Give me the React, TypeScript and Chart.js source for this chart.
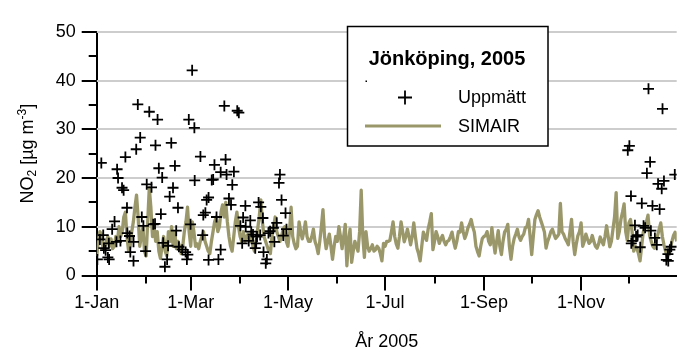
import React, { useEffect, useRef } from "react";
import { Chart, registerables } from "chart.js";

Chart.register(...registerables);

// ---------- data ----------
// Modelled daily NO2 (SIMAIR), day index 0 = 1 Jan 2005
const simair: number[] = [
  4, 7, 9, 8.5, 5.5, 6, 7, 8, 6, 7.5, 5.5, 6, 8, 7, 10, 8, 9, 12, 13, 8, 5, 6, 9, 11, 14, 16.5, 12, 6, 8, 10, 5,
  4, 11, 18, 14, 8, 10, 7, 9, 5, 3.5, 6, 8, 5, 4, 9, 7, 10, 6, 9, 5.5, 7, 6, 4.5, 6, 9, 11, 14, 9,
  6, 11, 9, 6, 6.5,
  5.5, 7, 8, 9, 7, 6, 5, 4.5, 7, 9, 11, 12, 9, 10, 13, 14.5, 12, 15, 11, 8, 6, 5, 8, 11, 13, 10, 8, 7, 9, 7,
  8, 8.5, 7, 9, 6, 5, 7, 9.5, 12, 15.5, 11, 8, 7, 6, 5, 4.5, 8, 10, 12, 9, 8, 7, 8, 9.5, 10, 7, 6, 9,
  14, 8, 6.5, 5.5, 6, 11, 9, 7.5, 9, 11, 8, 7, 7, 8, 9.5, 7, 6, 4.5, 7, 10, 13.5, 8, 5.5, 7, 8.5, 6, 3.3, 6, 8, 7,
  10, 8, 5.5, 8, 10.5, 2, 7, 9.5, 2.7, 5, 7, 6, 5, 9, 17.5, 8, 3.7, 9, 6, 5, 5.5, 6.3, 5, 5.3, 6, 5.6, 4.5, 3, 6.6, 6,
  7, 7, 7.2, 9, 11, 8, 6.5,
  5.6, 8, 11, 9, 6.9, 8, 9.5, 8, 6.3, 8, 10.8, 8, 5.6, 4.5, 3, 6, 8.9, 8, 7.2, 9.5, 11, 12.7, 5.3, 7, 9, 8, 6.6, 7.5, 8.2, 7,
  6.3, 7, 7.2, 8, 8.9, 7, 5.6, 7, 9, 8.9, 10.8, 9, 7.6, 8.5, 9.8, 10.5, 11.5, 10, 8.9, 6, 4.9, 4, 6, 7.6, 8, 8.2, 9, 7,
  6.3, 9.8, 7, 4.6, 7, 9.2, 6, 4.3, 7, 8.9, 9.5, 10.5, 6, 3.3, 6, 7.6, 8.5, 9.5, 8, 7.2, 8, 8.5, 9.8, 10, 11.5, 8, 4.3, 8, 11.5, 12.5,
  13.3, 12, 11, 10, 8.9, 5.6, 7, 7.9, 9, 9.5, 8.5, 7.6, 8, 8.5, 14.8, 9, 8.5, 7.6, 7, 6.3, 9, 11.5, 7, 4.3, 6.5, 8.2, 9,
  10.8, 6, 7, 8.5, 7.5, 6.6, 7, 8.2, 7, 6,
  5.6, 6.5, 7.9, 7, 6.3, 8, 10.2, 8, 5.9, 7, 9.5, 12, 17, 7.6, 9, 11.5, 13, 14.7, 9, 7.2, 10.8, 11.5, 9, 5, 6,
  5.6, 4.5, 3, 6, 8.9, 10, 11, 12.4, 8.2, 7, 6, 5.6, 7, 8.2, 9.5, 10.8, 8, 6.3, 5, 3.7, 4.5, 5.6, 7, 8.2, 8.9, 7,
];

// Measured values (Uppmätt): day of year and NO2
const obsDay: number[] = [
  59.9, 25.8, 33.0, 38.2, 57.8, 61.3, 27.3, 24.8, 36.9, 46.8,
  2.9, 18.0, 12.8, 13.4, 39.0, 49.1, 41.1, 61.5, 15.9, 16.9,
  31.4, 34.4, 47.9, 45.8, 19.0, 51.0, 40.3, 28.3, 11.2, 29.3,
  35.5, 36.6, 58.9, 9.7, 49.9, 4.1, 2.0, 19.2, 20.6, 14.9,
  12.4, 7.6, 23.1, 41.7, 44.8, 51.6, 53.7, 4.5, 5.6, 21.1,
  30.7, 55.8, 57.2, 7.0, 7.8, 0.4, 23.1, 44.2, 42.8, 56.6,
  80.1, 88.2, 89.2, 65.1, 80.9, 73.9, 86.1, 77.8, 81.5, 115.0,
  114.4, 72.2, 73.1, 85.1, 70.2, 69.0, 83.0, 84.3, 116.0, 101.6,
  103.0, 93.3, 118.5, 68.2, 66.9, 75.2, 91.9, 96.4, 104.3, 113.0,
  110.9, 90.2, 93.5, 119.1, 108.8, 107.8, 97.0, 98.1, 102.6, 100.6,
  66.5, 117.1, 111.5, 91.3, 95.4, 100.1, 99.5, 77.8, 104.7, 70.2,
  76.4, 106.8, 106.1,
  346.3, 355.1, 334.3, 333.3, 347.3, 345.3, 362.8, 356.0, 352.3, 354.6,
  335.3, 342.1, 348.8, 353.3, 337.8, 343.2, 344.2, 347.8, 339.5, 338.5,
  350.3, 336.4, 335.5, 351.5, 341.1, 360.6, 359.7, 358.5, 357.5, 358.7,
];
const obsValue: number[] = [
  42.1, 35.1, 33.6, 32.0, 32.0, 30.3, 28.3, 25.9, 26.7, 27.2,
  23.1, 24.3, 21.8, 20.0, 22.0, 22.5, 20.1, 19.5, 18.0, 17.5,
  18.7, 18.1, 18.0, 16.2, 13.9, 13.9, 12.6, 12.0, 11.1, 10.2,
  10.5, 10.6, 10.5, 9.5, 9.2, 8.3, 7.4, 8.7, 8.1, 7.1,
  6.9, 6.6, 6.9, 6.7, 6.1, 5.9, 5.3, 5.6, 5.2, 4.8,
  5.0, 4.8, 4.3, 3.7, 3.3, 3.3, 3.0, 3.3, 1.8, 3.3,
  34.8, 33.8, 33.4, 24.4, 23.8, 22.7, 21.3, 21.2, 20.7, 20.7,
  19.0, 19.6, 19.7, 18.6, 16.0, 15.5, 15.8, 14.5, 15.5, 15.0,
  14.1, 14.3, 12.8, 12.9, 12.4, 12.0, 11.9, 11.3, 11.8, 10.8,
  9.8, 10.2, 10.0, 9.5, 9.1, 8.7, 9.0, 8.4, 8.3, 8.0,
  8.3, 8.2, 6.9, 6.6, 7.1, 6.6, 5.6, 5.3, 4.8, 3.2,
  3.3, 3.3, 2.5,
  38.3, 34.2, 26.6, 25.7, 23.3, 21.0, 20.7, 19.4, 18.8, 17.8,
  16.3, 14.8, 14.3, 13.6, 10.3, 10.2, 9.8, 9.2, 8.3, 8.0,
  7.7, 7.1, 6.6, 6.3, 5.8, 5.9, 5.3, 4.4, 3.2, 3.0,
];

const monthStartDays: number[] = [0, 31, 59, 90, 120, 151, 181, 212, 243, 273, 304, 334];
const monthTickLabels: string[] = ["1-Jan", "", "1-Mar", "", "1-May", "", "1-Jul", "", "1-Sep", "", "1-Nov", ""];
const yMajorTicks: number[] = [0, 10, 20, 30, 40, 50];
const yMinorTicks: number[] = [5, 15, 25, 35, 45];
const legendTitle = "Jönköping, 2005";
const seriesNames: string[] = ["Uppmätt", "SIMAIR"];
const xTitle = "År 2005";

// ---------- styles ----------
const FONT = "'Liberation Sans', Arial, Helvetica, sans-serif";
const OLIVE = "#9a986a";

const gridPlugin = {
  id: "hgrid",
  beforeDatasetsDraw(chart: any) {
    const { ctx, chartArea, scales } = chart;
    ctx.save();
    ctx.strokeStyle = "#cdcdcd";
    ctx.lineWidth = 2;
    yMajorTicks.forEach((v) => {
      if (v === 0) return;
      const py = Math.round(scales.y.getPixelForValue(v));
      ctx.beginPath();
      ctx.moveTo(chartArea.left, py);
      ctx.lineTo(chartArea.right, py);
      ctx.stroke();
    });
    ctx.restore();
  },
};

const decorPlugin = {
  id: "decor",
  afterDraw(chart: any) {
    const { ctx, chartArea, scales } = chart;
    const xs = scales.x;
    const ys = scales.y;
    ctx.save();
    ctx.strokeStyle = "#000";
    ctx.lineWidth = 2;
    ctx.lineCap = "butt";
    // y ticks
    const drawY = (v: number, len: number) => {
      const py = Math.round(ys.getPixelForValue(v));
      ctx.beginPath();
      ctx.moveTo(chartArea.left - len, py);
      ctx.lineTo(chartArea.left, py);
      ctx.stroke();
    };
    yMajorTicks.forEach((v) => drawY(v, 15));
    yMinorTicks.forEach((v) => drawY(v, 8));
    // x ticks
    monthStartDays.forEach((d, i) => {
      const px = Math.round(xs.getPixelForValue(d));
      const len = i % 2 === 0 ? 15 : 8;
      ctx.beginPath();
      ctx.moveTo(px, chartArea.bottom);
      ctx.lineTo(px, chartArea.bottom + len);
      ctx.stroke();
    });

    // y-axis title with sub/superscript
    const cy = (chartArea.top + chartArea.bottom) / 2;
    ctx.translate(28, cy);
    ctx.rotate(-Math.PI / 2);
    ctx.fillStyle = "#000";
    ctx.textBaseline = "middle";
    ctx.textAlign = "left";
    const parts: [string, number, number][] = [
      ["NO", 18, 0],
      ["2", 12, 5],
      [" [µg m", 18, 0],
      ["-3", 12, -5],
      ["]", 18, 0],
    ];
    let total = 0;
    parts.forEach(([t, s]) => {
      ctx.font = `${s}px ${FONT}`;
      total += ctx.measureText(t).width;
    });
    let cx = -total / 2;
    parts.forEach(([t, s, dy]) => {
      ctx.font = `${s}px ${FONT}`;
      ctx.fillText(t, cx, dy);
      cx += ctx.measureText(t).width;
    });
    ctx.setTransform(1, 0, 0, 1, 0, 0);

    // legend box
    const bx = 347.5, by = 26.5, bw = 200.5, bh = 119.5;
    ctx.fillStyle = "#fff";
    ctx.fillRect(bx, by, bw, bh);
    ctx.strokeStyle = "#000";
    ctx.lineWidth = 1.5;
    ctx.strokeRect(bx, by, bw, bh);
    ctx.fillStyle = "#000";
    ctx.font = `bold 20px ${FONT}`;
    ctx.textAlign = "center";
    ctx.textBaseline = "middle";
    ctx.fillText(legendTitle, 447, 59);
    ctx.fillRect(365.5, 80.5, 1.5, 1.5);
    // cross marker
    ctx.lineWidth = 1.8;
    ctx.beginPath();
    ctx.moveTo(398, 97.5);
    ctx.lineTo(412, 97.5);
    ctx.moveTo(405, 90.5);
    ctx.lineTo(405, 104.5);
    ctx.stroke();
    // line sample
    ctx.strokeStyle = OLIVE;
    ctx.lineWidth = 3;
    ctx.beginPath();
    ctx.moveTo(365, 126);
    ctx.lineTo(441, 126);
    ctx.stroke();
    ctx.font = `18px ${FONT}`;
    ctx.textAlign = "left";
    ctx.fillText(seriesNames[0], 458, 98);
    ctx.fillText(seriesNames[1], 458, 127);
    ctx.restore();
  },
};

export default function App() {
  const ref = useRef<HTMLCanvasElement | null>(null);
  useEffect(() => {
    if (!ref.current) return;
    const chart = new Chart(ref.current, {
      type: "line",
      data: {
        datasets: [
          {
            label: seriesNames[0],
            data: obsDay.map((d, i) => ({ x: d, y: obsValue[i] })),
            showLine: false,
            pointStyle: "cross",
            pointRadius: 5.5,
            pointBorderWidth: 1.8,
            pointBorderColor: "#000",
            borderColor: "#000",
            backgroundColor: "#000",
            order: 0,
          },
          {
            label: seriesNames[1],
            data: simair.map((v, i) => ({ x: i, y: v })),
            borderColor: OLIVE,
            borderWidth: 3.3,
            pointRadius: 0,
            tension: 0,
            borderJoinStyle: "round",
            order: 1,
          },
        ],
      } as any,
      options: {
        responsive: false,
        animation: false,
        devicePixelRatio: 1,
        layout: { padding: { top: 18.7, right: 0, left: 0, bottom: 0 } },
        plugins: { legend: { display: false }, tooltip: { enabled: false } },
        scales: {
          x: {
            type: "linear",
            min: 0,
            max: 364,
            grid: { display: false, drawTicks: false },
            border: { display: true, color: "#000", width: 2 },
            afterBuildTicks: (s: any) => {
              s.ticks = monthStartDays.map((v) => ({ value: v }));
            },
            ticks: {
              autoSkip: false,
              maxRotation: 0,
              callback: (_v: any, i: number) => monthTickLabels[i],
              font: { family: FONT, size: 18 },
              color: "#000",
              padding: 17,
            },
            title: {
              display: true,
              text: xTitle,
              font: { family: FONT, size: 18 },
              color: "#000",
              padding: { top: 0, bottom: 1 },
            },
            afterFit: (s: any) => {
              s.height = 78.5;
            },
          },
          y: {
            min: 0,
            max: 50,
            ticks: {
              stepSize: 10,
              font: { family: FONT, size: 18 },
              color: "#000",
              padding: 21,
            },
            grid: { display: false, drawTicks: false },
            border: { display: true, color: "#000", width: 2 },
            afterFit: (s: any) => {
              s.width = 96.7;
            },
          },
        },
      } as any,
      plugins: [gridPlugin, decorPlugin],
    });
    return () => chart.destroy();
  }, []);
  return (
    <div style={{ position: "absolute", left: 0, top: 0, width: 684, height: 354, background: "#fff" }}>
      <canvas ref={ref} width={684} height={354} style={{ display: "block" }} />
    </div>
  );
}
